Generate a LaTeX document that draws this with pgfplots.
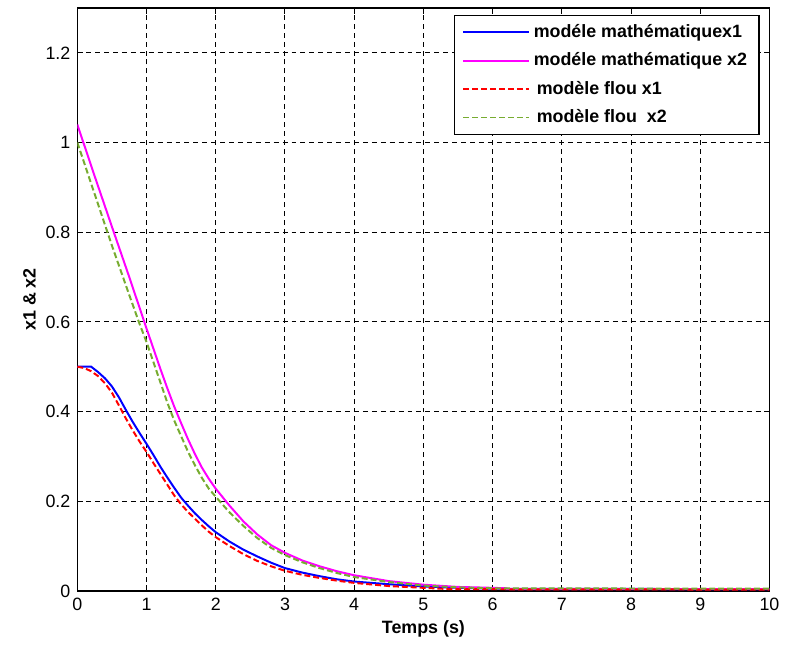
\documentclass[border=0pt]{standalone}
\usepackage{fontspec}
\setmainfont{Liberation Sans}
\usepackage{pgfplots}
\pgfplotsset{compat=1.18}
\definecolor{mgreen}{RGB}{119,172,48}
\definecolor{mmag}{RGB}{255,0,255}
\definecolor{mblue}{RGB}{0,0,255}
\definecolor{mred}{RGB}{255,0,0}
\begin{document}
\begin{tikzpicture}
\begin{axis}[
  scale only axis, width=349pt, height=294pt,
  xmin=0, xmax=10, ymin=0, ymax=1.3,
  xtick={0,1,2,3,4,5,6,7,8,9,10},
  ytick={0,0.2,0.4,0.6,0.8,1,1.2},
  yticklabels={0,0.2,0.4,0.6,0.8,1,1.2},
  /pgf/number format/assume math mode=true,
  tick label style={font=\fontsize{9}{10}\selectfont},
  tick align=inside, major tick length=3pt,
  tick style={black, line width=0.5pt},
  axis line style={line width=0.8pt},
  grid=major, grid style={dashed, black, line width=0.5pt, dash pattern=on 2.5pt off 2pt},
  xlabel={\bfseries Temps (s)}, ylabel={\bfseries x1 \& x2},
  label style={font=\fontsize{9}{10}\selectfont\bfseries},
  xlabel style={yshift=2pt}, ylabel style={yshift=-2pt},
  legend style={at={(1,1)}, anchor=north east, xshift=-5pt, yshift=-3.5pt,
    font=\fontsize{9}{10}\selectfont\bfseries, draw=black, line width=0.6pt,
    row sep=2.2pt, cells={anchor=west}, inner xsep=4pt, inner ysep=2.5pt},
  legend image code/.code={\draw[#1] (0cm,0cm) -- (33pt,0cm);},
]
\addplot[mblue, line width=1pt] coordinates {
(0,0.5)(0.2,0.5)(0.3,0.488)(0.4,0.474)(0.5,0.456)(0.6,0.432)(0.7,0.404)(0.8,0.377)(0.9,0.352)(1.0,0.328)(1.1,0.303)(1.2,0.277)(1.3,0.253)(1.4,0.23)(1.5,0.208)(1.6,0.19)(1.7,0.173)(1.8,0.158)(1.9,0.144)(2.0,0.131)(2.2,0.11)(2.4,0.092)(2.6,0.077)(2.8,0.063)(3.0,0.051)(3.25,0.041)(3.5,0.033)(3.75,0.026)(4,0.021)(4.5,0.015)(5,0.01)(5.5,0.007)(6,0.005)(10,0.004)};
\addlegendentry{modéle mathématiquex1}
\addplot[mmag, line width=1pt] coordinates {
(0,1.04)(0.25,0.925)(0.5,0.812)(0.75,0.70)(1.0,0.585)(1.1,0.54)(1.2,0.495)(1.3,0.452)(1.4,0.411)(1.5,0.374)(1.6,0.338)(1.7,0.305)(1.8,0.275)(1.9,0.25)(2.0,0.228)(2.2,0.19)(2.4,0.155)(2.6,0.126)(2.8,0.102)(3.0,0.085)(3.25,0.068)(3.5,0.055)(3.75,0.044)(4,0.035)(4.5,0.022)(5,0.014)(5.5,0.009)(6,0.007)(6.2,0.006)(6.2,0.004)(10,0.004)};
\addlegendentry{modéle mathématique x2}
\addplot[mred, line width=1pt, dash pattern=on 3pt off 1.5pt] coordinates {
(0,0.5)(0.1,0.497)(0.2,0.49)(0.3,0.479)(0.4,0.463)(0.5,0.442)(0.6,0.414)(0.7,0.385)(0.8,0.358)(0.9,0.333)(1.0,0.31)(1.1,0.285)(1.2,0.261)(1.3,0.237)(1.4,0.213)(1.5,0.193)(1.6,0.176)(1.7,0.161)(1.8,0.146)(1.9,0.132)(2.0,0.12)(2.2,0.1)(2.4,0.082)(2.6,0.067)(2.8,0.055)(3.0,0.045)(3.25,0.036)(3.5,0.029)(3.75,0.023)(4,0.018)(4.5,0.011)(5,0.007)(5.4,0.004)(10,0.003)};
\addlegendentry{\,modèle flou x1}
\addplot[mgreen, line width=1pt, dash pattern=on 3pt off 1.5pt] coordinates {
(0,1.0)(0.25,0.885)(0.5,0.77)(0.75,0.66)(0.9,0.595)(1.0,0.555)(1.1,0.51)(1.2,0.465)(1.3,0.42)(1.4,0.38)(1.5,0.345)(1.6,0.31)(1.7,0.28)(1.8,0.252)(1.9,0.228)(2.0,0.21)(2.2,0.175)(2.4,0.145)(2.6,0.118)(2.8,0.096)(3.0,0.08)(3.25,0.064)(3.5,0.051)(3.75,0.04)(4,0.031)(4.5,0.02)(5,0.012)(5.5,0.008)(6,0.006)(10,0.005)};
\addlegendentry{\,modèle flou\ \ x2}
\end{axis}
\path ([shift={(-39pt,-28pt)}]current axis.south west) rectangle ([shift={(5pt,4pt)}]current axis.north east);
\end{tikzpicture}
\end{document}
